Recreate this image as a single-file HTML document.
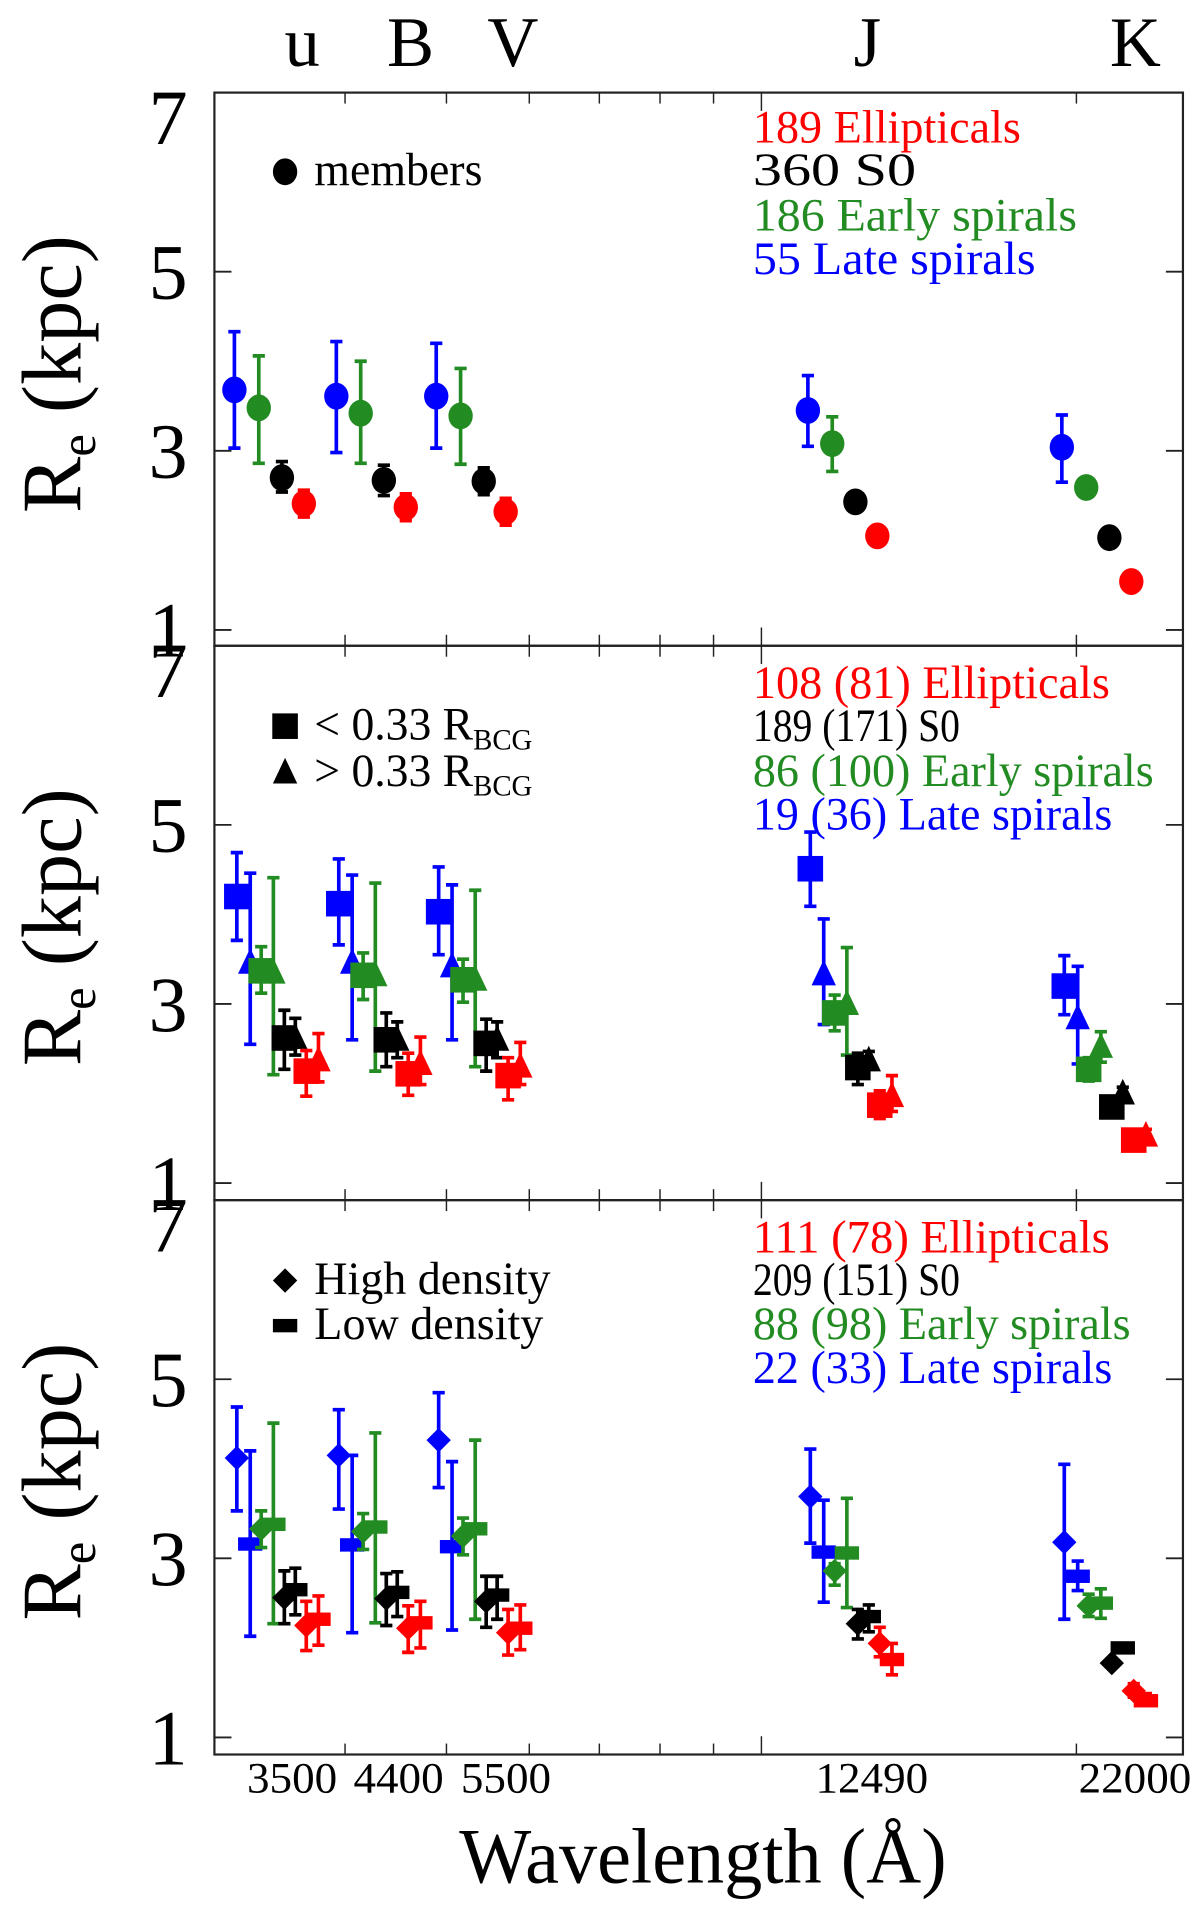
<!DOCTYPE html>
<html><head><meta charset="utf-8"><style>
html,body{margin:0;padding:0;background:#fff;}
svg{display:block;}
text{font-family:"Liberation Serif",serif;}
</style></head>
<body>
<svg id="chart" xmlns="http://www.w3.org/2000/svg" width="1200" height="1919" viewBox="0 0 985 1575" preserveAspectRatio="none">
<g id="frames"></g><g id="marks"></g><g id="labels"></g>
</svg>
<script>
// ---- data ----
const bands = ["u","B","V","J","K"];
const bandWl = [3380,4230,5270,11940,20880];
const xTickLabels = ["3500","4400","5500","12490","22000"];
const xTickLabelWl = [3560,4500,5700,12750,22750];
const yTicks = [1,3,5,7];
const minorTicks = [4000,5000,6000,7000,8000,9000,20000];
const majorTicks = [10000];

// panel 1 (members, circles)
const p1Blue = [3.68,3.61,3.61,3.45,3.04], p1BlueHi=[4.33,4.22,4.20,3.84,3.40], p1BlueLo=[3.03,2.98,3.03,3.05,2.65];
const p1Green= [3.48,3.42,3.39,3.08,2.59], p1GreenHi=[4.06,4.00,3.92,3.38,2.64], p1GreenLo=[2.86,2.86,2.85,2.77,2.54];
const p1Black= [2.70,2.67,2.66,2.43,2.03], p1BlackHi=[2.88,2.84,2.81,2.51,2.03], p1BlackLo=[2.54,2.50,2.51,2.35,2.03];
const p1Red  = [2.41,2.37,2.32,2.05,1.54], p1RedHi=[2.56,2.52,2.47,2.11,1.54], p1RedLo=[2.26,2.22,2.17,1.99,1.54];

// panel 2 (squares < 0.33 R_BCG, triangles > 0.33 R_BCG)
const p2BlueSq=[4.20,4.12,4.03,4.51,3.20], p2BlueSqHi=[4.69,4.62,4.53,4.92,3.54], p2BlueSqLo=[3.71,3.66,3.55,4.09,2.88];
const p2BlueTr=[3.46,3.46,3.42,3.33,2.84], p2BlueTrHi=[4.46,4.44,4.33,3.95,3.42], p2BlueTrLo=[2.55,2.60,2.60,2.77,2.33];
const p2GreenSq=[3.37,3.32,3.27,2.90,2.27], p2GreenSqHi=[3.64,3.57,3.50,3.10,2.40], p2GreenSqLo=[3.12,3.05,3.02,2.70,2.14];
const p2GreenTr=[3.35,3.32,3.27,3.00,2.52], p2GreenTrHi=[4.41,4.35,4.27,3.63,2.69], p2GreenTrLo=[2.21,2.25,2.30,2.43,2.35];
const p2BlackSq=[2.62,2.60,2.56,2.29,1.85], p2BlackSqHi=[2.93,2.90,2.83,2.45,1.85], p2BlackSqLo=[2.27,2.30,2.25,2.10,1.85];
const p2BlackTr=[2.62,2.60,2.60,2.37,2.00], p2BlackTrHi=[2.84,2.80,2.80,2.47,2.07], p2BlackTrLo=[2.43,2.40,2.40,2.27,1.95];
const p2RedSq=[2.25,2.22,2.20,1.87,1.48], p2RedSqHi=[2.48,2.45,2.40,2.03,1.48], p2RedSqLo=[1.97,1.98,1.93,1.72,1.48];
const p2RedTr=[2.37,2.33,2.30,1.97,1.53], p2RedTrHi=[2.67,2.63,2.57,2.20,1.60], p2RedTrLo=[2.13,2.10,2.10,1.80,1.47];

// panel 3 (diamonds high density, bars low density)
const p3BlueDi=[4.12,4.15,4.32,3.69,3.18], p3BlueDiHi=[4.69,4.66,4.85,4.22,4.05], p3BlueDiLo=[3.53,3.55,3.79,3.17,2.32];
const p3BlueLo=[3.16,3.15,3.13,3.07,2.80], p3BlueLoHi=[4.20,4.15,4.08,3.65,2.97], p3BlueLoLo=[2.13,2.17,2.20,2.51,2.64];
const p3GreenDi=[3.33,3.30,3.25,2.86,2.47], p3GreenDiHi=[3.53,3.50,3.45,2.94,2.60], p3GreenDiLo=[3.12,3.10,3.04,2.70,2.35];
const p3GreenLo=[3.38,3.35,3.33,3.06,2.50], p3GreenLoHi=[4.51,4.40,4.32,3.67,2.66], p3GreenLoLo=[2.27,2.28,2.32,2.45,2.33];
const p3BlackDi=[2.56,2.55,2.52,2.27,1.83], p3BlackDiHi=[2.86,2.83,2.80,2.43,1.83], p3BlackDiLo=[2.27,2.25,2.23,2.10,1.83];
const p3BlackLo=[2.65,2.62,2.59,2.35,2.00], p3BlackLoHi=[2.89,2.85,2.80,2.48,2.00], p3BlackLoLo=[2.37,2.35,2.32,2.18,2.00];
const p3RedDi=[2.25,2.22,2.17,2.05,1.52], p3RedDiHi=[2.52,2.47,2.43,2.23,1.60], p3RedDiLo=[1.97,1.95,1.92,1.90,1.45];
const p3RedLo=[2.32,2.28,2.22,1.87,1.41], p3RedLoHi=[2.58,2.52,2.48,2.05,1.49], p3RedLoLo=[2.03,2.00,1.98,1.70,1.36];

// ---- layout ----
const NS="http://www.w3.org/2000/svg";
const L=176,R=971;
const panelTops=[76,530,985];
const PH=[454,455,455];
const PX=73.5;
function xScale(w){return 625+373*Math.log(w/10000);}
function yScale(p,v){return panelTops[p]+(7-v)*PX;}
const RED="#ff0000",BLACK="#000000",GREEN="#228b22",BLUE="#0000ff";
const frames=document.getElementById('frames');
const marks=document.getElementById('marks');
const labels=document.getElementById('labels');
function mk(tag,attrs,parent){const e=document.createElementNS(NS,tag);for(const k in attrs)e.setAttribute(k,attrs[k]);(parent||marks).appendChild(e);return e;}

// frames & ticks
for(let p=0;p<3;p++){
  const t=panelTops[p],b=t+PH[p];
  const fr=mk('rect',{x:L,y:t,width:R-L,height:b-t,fill:'none',stroke:'#222','stroke-width':1.8},frames);
  
  
  minorTicks.forEach(w=>{const x=xScale(w);
    mk('line',{x1:x,x2:x,y1:b,y2:b-9,stroke:'#222','stroke-width':1.2},frames);
    mk('line',{x1:x,x2:x,y1:t,y2:t+9,stroke:'#222','stroke-width':1.2},frames);});
  majorTicks.forEach(w=>{const x=xScale(w);
    mk('line',{x1:x,x2:x,y1:b,y2:b-15,stroke:'#222','stroke-width':1.2},frames);
    mk('line',{x1:x,x2:x,y1:t,y2:t+15,stroke:'#222','stroke-width':1.2},frames);});
  yTicks.forEach(v=>{const y=yScale(p,v);
    if(v<7){mk('line',{x1:L,x2:L+14,y1:y,y2:y,stroke:'#222','stroke-width':1.5},frames);
    mk('line',{x1:R,x2:R-14,y1:y,y2:y,stroke:'#222','stroke-width':1.5},frames);}
    const tl=mk('text',{x:138,y:y+22+(v===7?20:0),'font-size':64,'text-anchor':'middle'},labels);
    tl.textContent=String(v);
    
    
  });
  const yt=mk('text',{x:0,y:0,'font-size':70,'text-anchor':'middle',textLength:228,lengthAdjust:'spacingAndGlyphs',transform:`translate(66,${t+231}) rotate(-90)`},labels);
  yt.innerHTML='R<tspan font-size="42" dy="12">e</tspan><tspan dy="-12"> (kpc)</tspan>';
  
  
}

// x tick labels
xTickLabels.forEach((s,i)=>{
  const e=mk('text',{x:xScale(xTickLabelWl[i]),y:1471,'font-size':36,'text-anchor':'middle',textLength:s.length*18.5,lengthAdjust:'spacingAndGlyphs'},labels);
  e.textContent=s;
  
  
});
const xt=mk('text',{x:577,y:1545,'font-size':64,'text-anchor':'middle',textLength:400,lengthAdjust:'spacingAndGlyphs'},labels);
xt.textContent='Wavelength (Å)';


const bandLabelX=[248,337,421,712,932];
bands.forEach((b,i)=>{
  const e=mk('text',{x:bandLabelX[i],y:54,'font-size':58,'text-anchor':'middle'},labels);
  e.textContent=b;
  
  
});

// markers
function marker(shape,x,y,color){
  let e;
  if(shape==='circle') e=mk('ellipse',{cx:x,cy:y,rx:10,ry:11,fill:color});
  else if(shape==='square') e=mk('rect',{x:x-10.5,y:y-10.5,width:21,height:21,fill:color});
  else if(shape==='tri') e=mk('polygon',{points:`${x},${y-12} ${x+10},${y+9} ${x-10},${y+9}`,fill:color});
  else if(shape==='diamond') e=mk('polygon',{points:`${x},${y-10} ${x+10},${y} ${x},${y+10} ${x-10},${y}`,fill:color});
  else e=mk('rect',{x:x-10,y:y-5.5,width:20,height:11,fill:color});
  return e;
}
function series(p,vals,hi,lo,shape,color,off,name){
  vals.forEach((v,i)=>{
    const x=xScale(bandWl[i])+off, y=yScale(p,v);
    if(hi[i]-lo[i]>0.02){
      const y1=yScale(p,hi[i]),y2=yScale(p,lo[i]);
      const g=mk('path',{d:`M${x},${y1}V${y2}M${x-5},${y1}H${x+5}M${x-5},${y2}H${x+5}`,stroke:color,'stroke-width':3,fill:'none'});
      
      
    }
    const m=marker(shape,x,y,color);
    
    
  });
}
series(0,p1Blue,p1BlueHi,p1BlueLo,'circle',BLUE,-28,'late-spirals');
series(0,p1Green,p1GreenHi,p1GreenLo,'circle',GREEN,-8,'early-spirals');
series(0,p1Black,p1BlackHi,p1BlackLo,'circle',BLACK,11,'s0');
series(0,p1Red,p1RedHi,p1RedLo,'circle',RED,29,'ellipticals');

series(1,p2BlueSq,p2BlueSqHi,p2BlueSqLo,'square',BLUE,-26,'late-spirals-inner');
series(1,p2BlueTr,p2BlueTrHi,p2BlueTrLo,'tri',BLUE,-15,'late-spirals-outer');
series(1,p2GreenSq,p2GreenSqHi,p2GreenSqLo,'square',GREEN,-6,'early-spirals-inner');
series(1,p2GreenTr,p2GreenTrHi,p2GreenTrLo,'tri',GREEN,4,'early-spirals-outer');
series(1,p2BlackSq,p2BlackSqHi,p2BlackSqLo,'square',BLACK,13,'s0-inner');
series(1,p2BlackTr,p2BlackTrHi,p2BlackTrLo,'tri',BLACK,22,'s0-outer');
series(1,p2RedSq,p2RedSqHi,p2RedSqLo,'square',RED,31,'ellipticals-inner');
series(1,p2RedTr,p2RedTrHi,p2RedTrLo,'tri',RED,41,'ellipticals-outer');

series(2,p3BlueDi,p3BlueDiHi,p3BlueDiLo,'diamond',BLUE,-26,'late-spirals-high');
series(2,p3BlueLo,p3BlueLoHi,p3BlueLoLo,'bar',BLUE,-15,'late-spirals-low');
series(2,p3GreenDi,p3GreenDiHi,p3GreenDiLo,'diamond',GREEN,-6,'early-spirals-high');
series(2,p3GreenLo,p3GreenLoHi,p3GreenLoLo,'bar',GREEN,4,'early-spirals-low');
series(2,p3BlackDi,p3BlackDiHi,p3BlackDiLo,'diamond',BLACK,13,'s0-high');
series(2,p3BlackLo,p3BlackLoHi,p3BlackLoLo,'bar',BLACK,22,'s0-low');
series(2,p3RedDi,p3RedDiHi,p3RedDiLo,'diamond',RED,31,'ellipticals-high');
series(2,p3RedLo,p3RedLoHi,p3RedLoLo,'bar',RED,41,'ellipticals-low');

// legends (counts)
const legText=[
 [["189 Ellipticals",RED,220],["360 S0",BLACK,134],["186  Early spirals",GREEN,266],["55  Late spirals",BLUE,232]],
 [["108 (81) Ellipticals",RED,293],["189 (171) S0",BLACK,170],["86 (100) Early spirals",GREEN,329],["19 (36) Late spirals",BLUE,295]],
 [["111 (78) Ellipticals",RED,293],["209 (151) S0",BLACK,170],["88 (98) Early spirals",GREEN,310],["22 (33) Late spirals",BLUE,295]]];
const legBase=[[117,152,189,225],[573,608,645,681],[1028,1063,1099,1135]];
legText.forEach((rows,p)=>rows.forEach((r,j)=>{
  const e=mk('text',{x:618,y:legBase[p][j],'font-size':38,fill:r[1],'xml:space':'preserve',textLength:r[2],lengthAdjust:'spacingAndGlyphs'},labels);
  e.textContent=r[0];
  
  
}));
// symbol legends
function symLeg(shape,y,html,w){
  const m=marker(shape,234,y,BLACK);
  
  
  const e=mk('text',{x:258,y:y+11,'font-size':38,textLength:w,lengthAdjust:'spacingAndGlyphs'},labels);
  e.innerHTML=html;
  
  
}
symLeg('circle',141,'members',138);
symLeg('square',596,'&lt; 0.33 R<tspan font-size="24" dy="8">BCG</tspan>',179);
symLeg('tri',634,'&gt; 0.33 R<tspan font-size="24" dy="8">BCG</tspan>',179);
symLeg('diamond',1051,'High density',194);
symLeg('bar',1088,'Low density',188);
</script>
</body></html>
